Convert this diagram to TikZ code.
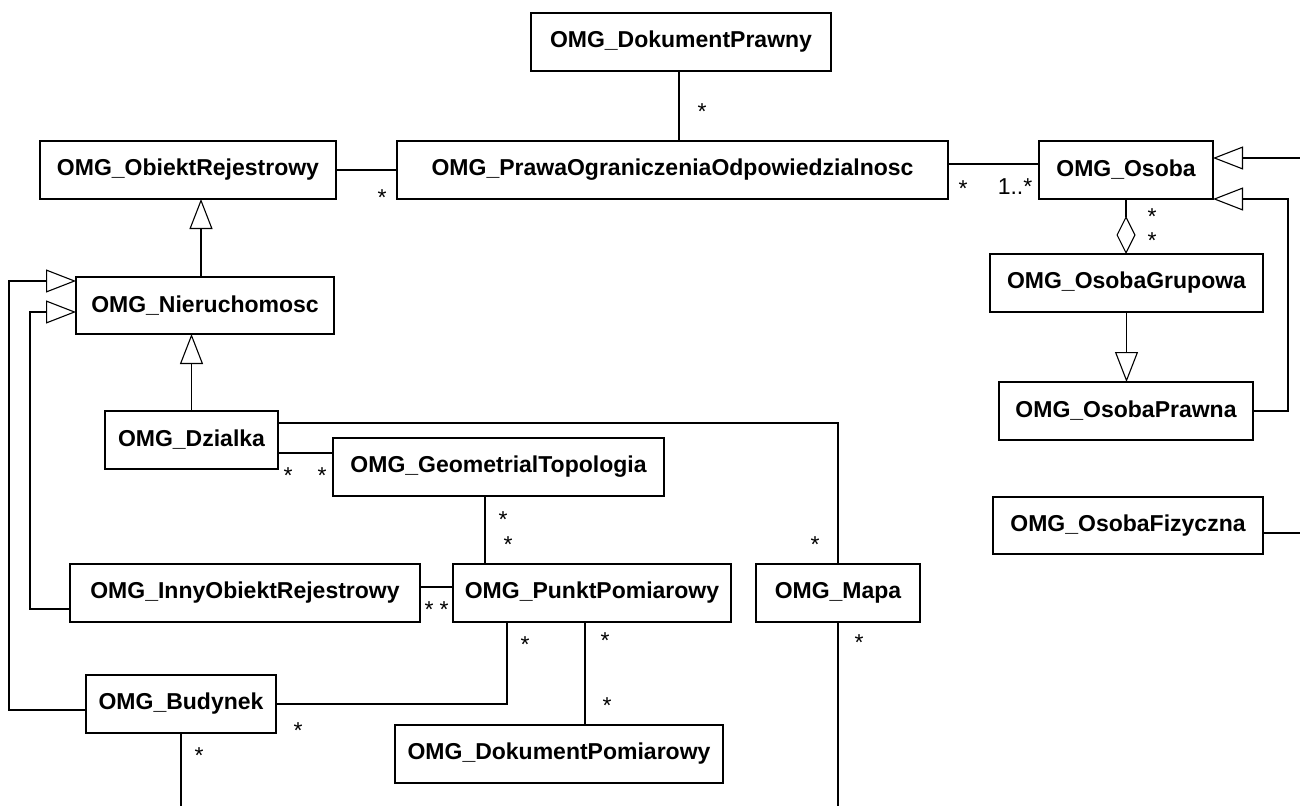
\documentclass[tikz,border=0pt]{standalone}
\usepackage{fontspec}
\setmainfont{Liberation Sans}
\usetikzlibrary{arrows.meta}
\begin{document}
\begin{tikzpicture}[x=1pt,y=-1pt,
  cls/.style={draw, line width=1.4pt, inner sep=0pt, outer sep=0pt,
    font=\fontsize{23}{27}\selectfont\bfseries, minimum height=58pt},
  conn/.style={line width=1.1pt},
  gen/.style={conn, -{Triangle[open,length=30pt,width=23pt,line width=1.1pt]}},
  agg/.style={conn, -{Diamond[open,length=38pt,width=19pt,line width=1.1pt]}},
  mult/.style={anchor=base, inner sep=0pt, font=\fontsize{23}{27}\selectfont}]
\useasboundingbox (0,0) rectangle (1300,806);

% classes
\node[cls, minimum width=300pt] (dp)  at (681,42)     {OMG\_DokumentPrawny\hspace{10pt}};
\node[cls, minimum width=296pt] (or)  at (188,170)    {OMG\_ObiektRejestrowy\hspace{11pt}};
\node[cls, minimum width=551pt] (po)  at (672.5,170)  {OMG\_PrawaOgraniczeniaOdpowiedzialnosc\hspace{21pt}};
\node[cls, minimum width=174pt] (os)  at (1126,170)   {OMG\_Osoba\hspace{3pt}};
\node[cls, minimum width=273pt] (og)  at (1126.5,283) {OMG\_OsobaGrupowa\hspace{7pt}};
\node[cls, minimum width=254pt] (opr) at (1126,411)   {OMG\_OsobaPrawna\hspace{8pt}};
\node[cls, minimum width=270pt, minimum height=57pt] (of) at (1128,525.5) {OMG\_OsobaFizyczna\hspace{3pt}};
\node[cls, minimum width=258pt, minimum height=57pt] (ni) at (205,305.5)  {OMG\_Nieruchomosc\hspace{7pt}};
\node[cls, minimum width=173pt] (dz)  at (191.5,440)  {OMG\_Dzialka\hspace{3pt}};
\node[cls, minimum width=331pt] (ge)  at (498.5,467)  {OMG\_GeometrialTopologia\hspace{3pt}};
\node[cls, minimum width=350pt] (in)  at (245,593)    {OMG\_InnyObiektRejestrowy\hspace{8pt}};
\node[cls, minimum width=278pt] (pp)  at (592,593)    {OMG\_PunktPomiarowy\hspace{10pt}};
\node[cls, minimum width=164pt] (ma)  at (838,593)    {OMG\_Mapa\hspace{3pt}};
\node[cls, minimum width=190pt] (bu)  at (181,704)    {OMG\_Budynek\hspace{2pt}};
\node[cls, minimum width=328pt] (dpm) at (559,754)    {OMG\_DokumentPomiarowy\hspace{12pt}};

% free ends at the border
\coordinate (eOs)  at (1300,158);
\coordinate (eOf)  at (1300,533);
\coordinate (eMa)  at (838,806);
\coordinate (eBu)  at (181,806);

% associations
\draw[conn] ([xshift=-2pt]dp.south) -- ([xshift=-2pt]dp.south |- po.north);
\draw[conn] (or.east) -- (po.west);
\draw[conn] ([yshift=6pt]po.east) -- ([yshift=6pt]os.west);
\draw[agg]  (os.south) -- (os.south |- og.north);
\draw[conn] ([yshift=-7.5pt]of.east) -- (eOf |- 0,533);
\draw[conn] ([yshift=17pt]dz.east) -| (ma.north);
\draw[conn] ([yshift=-13pt]dz.east) -- ([yshift=-13pt]dz.east -| ge.west);
\draw[conn] ([xshift=-13.5pt]ge.south) -- ([xshift=-13.5pt]ge.south |- pp.north);
\draw[conn] ([yshift=6pt]in.east) -- ([yshift=6pt]in.east -| pp.west);
\draw[conn] ([xshift=-85pt]pp.south) |- (bu.east);
\draw[conn] ([xshift=-7pt]pp.south) -- ([xshift=-7pt]pp.south |- dpm.north);
\draw[conn] (ma.south) -- (eMa);
\draw[conn] (bu.south) -- (eBu);

% generalizations
\draw[gen] (eOs) -- (eOs -| os.east);
\draw[gen] (opr.east) -- ++(35,0) |- (os.south east);
\draw[gen] (og.south) -- (og.south |- opr.north);
\draw[gen] ([xshift=-4pt]ni.north) -- ([xshift=-4pt]ni.north |- or.south);
\draw[gen] (dz.north) -- (dz.north |- ni.south);
\draw[gen] ([yshift=-6pt]bu.west) -| (9,281) -- ([yshift=-4pt]ni.north west);
\draw[gen] ([yshift=-16pt]in.west) -| (30,312) -- ([yshift=-6.5pt]ni.west);

% multiplicities
\node[mult] (m1)  at (702,119)   {*};
\node[mult] (m2)  at (382,205)   {*};
\node[mult] (m3)  at (963,196)   {*};
\node[mult] (m4)  at (1015,194)  {1..*};
\node[mult] (m5)  at (1152,224)  {*};
\node[mult] (m6)  at (1152,248)  {*};
\node[mult] (m7)  at (288,483)   {*};
\node[mult] (m8)  at (322,483)   {*};
\node[mult] (m9)  at (503,527)   {*};
\node[mult] (m10) at (508,552)   {*};
\node[mult] (m11) at (815,552)   {*};
\node[mult] (m12) at (429,617)   {*};
\node[mult] (m13) at (444,617)   {*};
\node[mult] (m14) at (525,652)   {*};
\node[mult] (m15) at (298,738)   {*};
\node[mult] (m16) at (605,648)   {*};
\node[mult] (m17) at (607,713)   {*};
\node[mult] (m18) at (859,650)   {*};
\node[mult] (m19) at (199,763)   {*};
\end{tikzpicture}
\end{document}
